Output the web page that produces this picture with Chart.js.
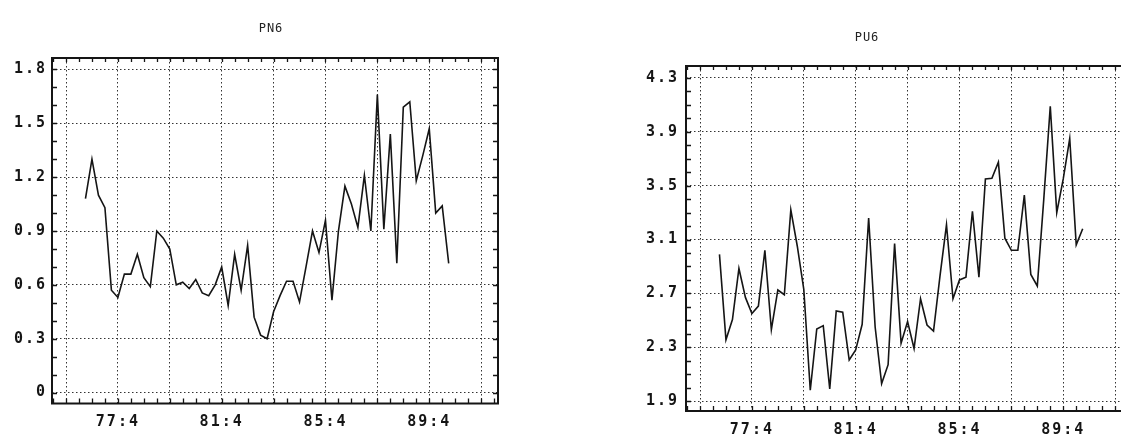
<!DOCTYPE html>
<html>
<head>
<meta charset="utf-8">
<script src="https://cdn.jsdelivr.net/npm/chart.js@4.4.0/dist/chart.umd.min.js"></script>
<style>
  html, body { margin: 0; padding: 0; background: #fff; overflow: hidden; width: 1121px; height: 438px; }
  .panel { position: absolute; top: 0; width: 540px; height: 438px; }
  .title { position: absolute; font: 12px 'DejaVu Sans Mono', monospace; letter-spacing: 1px; color: #222; transform: translateX(-50%); }
</style>
</head>
<body>
<div class="panel" style="left:0"><canvas id="pn6" width="540" height="438"></canvas></div>
<div class="panel" style="left:634px"><canvas id="pu6" width="540" height="438"></canvas></div>
<div class="title" style="left:271px; top:21px">PN6</div>
<div class="title" style="left:867px; top:30px">PU6</div>
<script>
/* global Chart */

// Quarters (yy:q), 76:3 .. 90:3
var quarters = [
    '76:3', '76:4',
    '77:1', '77:2', '77:3', '77:4', '78:1', '78:2', '78:3', '78:4',
    '79:1', '79:2', '79:3', '79:4', '80:1', '80:2', '80:3', '80:4',
    '81:1', '81:2', '81:3', '81:4', '82:1', '82:2', '82:3', '82:4',
    '83:1', '83:2', '83:3', '83:4', '84:1', '84:2', '84:3', '84:4',
    '85:1', '85:2', '85:3', '85:4', '86:1', '86:2', '86:3', '86:4',
    '87:1', '87:2', '87:3', '87:4', '88:1', '88:2', '88:3', '88:4',
    '89:1', '89:2', '89:3', '89:4', '90:1', '90:2', '90:3'
];

var pn6 = [
    1.08, 1.30,
    1.10, 1.03, 0.57, 0.53, 0.66, 0.66, 0.77, 0.64,
    0.59, 0.90, 0.86, 0.80, 0.60, 0.615, 0.58, 0.63,
    0.555, 0.54, 0.60, 0.70, 0.485, 0.77, 0.57, 0.82,
    0.42, 0.32, 0.30, 0.45, 0.54, 0.62, 0.62, 0.505,
    0.70, 0.90, 0.78, 0.96, 0.515, 0.90, 1.15, 1.05,
    0.92, 1.21, 0.90, 1.66, 0.91, 1.44, 0.72, 1.59,
    1.62, 1.18, 1.32, 1.47, 1.00, 1.04, 0.72
];

var pu6 = [
    2.99, 2.355,
    2.505, 2.885, 2.67, 2.55, 2.605, 3.02, 2.43, 2.725,
    2.69, 3.32, 3.05, 2.73, 1.98, 2.435, 2.46, 1.99,
    2.57, 2.56, 2.205, 2.28, 2.47, 3.26, 2.45, 2.03,
    2.17, 3.07, 2.33, 2.49, 2.29, 2.66, 2.465, 2.42,
    2.83, 3.21, 2.66, 2.80, 2.82, 3.31, 2.82, 3.55,
    3.555, 3.675, 3.11, 3.02, 3.02, 3.43, 2.84, 2.755,
    3.40, 4.09, 3.30, 3.55, 3.85, 3.06, 3.18
];

var pnYLabels = ['0', '0.3', '0.6', '0.9', '1.2', '1.5', '1.8'];
var puYLabels = ['1.9', '2.3', '2.7', '3.1', '3.5', '3.9', '4.3'];
var xTickLabels = ['77:4', '81:4', '85:4', '89:4'];
var xGridQuarters = ['75:4', '77:4', '79:4', '81:4', '83:4', '85:4', '87:4', '89:4', '91:4'];

var FONT = "'DejaVu Sans Mono', monospace";
var INK = '#151515';
var GRID = '#333';

function qIndex(s) {
    var p = s.split(':');
    return (Number(p[0]) - 75) * 4 + (Number(p[1]) - 1);
}

function near(a, b) { return Math.abs(a - b) < 1e-6; }

// frame with inward ticks on all four sides
var framePlugin = {
    id: 'frame',
    beforeDraw: function (chart) {
        chart.ctx.letterSpacing = '2px';
    },
    afterDatasetsDraw: function (chart) {
        var ctx = chart.ctx, a = chart.chartArea;
        var xs = chart.scales.x, ys = chart.scales.y;
        ctx.save();
        ctx.strokeStyle = INK;
        ctx.lineWidth = 1.3;
        ctx.beginPath();
        xs.ticks.forEach(function (t) {
            var px = Math.round(xs.getPixelForValue(t.value)) + 0.5;
            ctx.moveTo(px, a.bottom); ctx.lineTo(px, a.bottom - 5);
            ctx.moveTo(px, a.top); ctx.lineTo(px, a.top + 4);
        });
        ys.ticks.forEach(function (t) {
            var py = Math.round(ys.getPixelForValue(t.value)) + 0.5;
            ctx.moveTo(a.left, py); ctx.lineTo(a.left + 5, py);
            ctx.moveTo(a.right, py); ctx.lineTo(a.right - 5, py);
        });
        ctx.stroke();
        ctx.lineWidth = 2;
        ctx.strokeRect(a.left, a.top, a.right - a.left, a.bottom - a.top);
        ctx.restore();
    }
};

function makeChart(id, values, yLabels, yMin, yMax, top, xHeight) {
    var yFirst = parseFloat(yLabels[0]);
    var yLast = parseFloat(yLabels[yLabels.length - 1]);
    var points = quarters.map(function (q, i) { return { x: qIndex(q), y: values[i] }; });

    return new Chart(document.getElementById(id), {
        type: 'line',
        data: {
            datasets: [{
                data: points,
                borderColor: INK,
                borderWidth: 1.6,
                pointRadius: 0,
                tension: 0,
                fill: false
            }]
        },
        options: {
            responsive: false,
            animation: false,
            layout: { padding: { top: top, right: 42, left: 0, bottom: 0 } },
            plugins: { legend: { display: false }, tooltip: { enabled: false } },
            scales: {
                x: {
                    type: 'linear',
                    min: qIndex('75:4') - 2.16,
                    max: qIndex('91:4') + 2.6,
                    afterBuildTicks: function (s) {
                        var t = [];
                        for (var v = qIndex('75:2'); v <= s.max; v += 2) t.push({ value: v });
                        s.ticks = t;
                    },
                    afterFit: function (s) { s.height = xHeight; },
                    grid: {
                        drawTicks: false,
                        lineWidth: 1,
                        color: function (c) {
                            var v = c.tick ? c.tick.value : NaN;
                            return xGridQuarters.some(function (q) { return qIndex(q) === v; }) ? GRID : 'rgba(0,0,0,0)';
                        }
                    },
                    border: { display: false, dash: [1.5, 2.5] },
                    ticks: {
                        autoSkip: false,
                        maxRotation: 0,
                        padding: 10,
                        color: INK,
                        font: { family: FONT, size: 15, weight: 'bold' },
                        callback: function (v) {
                            var l = xTickLabels.filter(function (q) { return qIndex(q) === v; });
                            return l.length ? l[0] : '';
                        }
                    }
                },
                y: {
                    min: yMin,
                    max: yMax,
                    afterBuildTicks: function (s) {
                        var t = [];
                        for (var k = 0; yFirst + k * 0.1 <= yLast + 1e-6; k++) {
                            t.push({ value: Math.round((yFirst + k * 0.1) * 10) / 10 });
                        }
                        s.ticks = t;
                    },
                    afterFit: function (s) { s.width = 52; },
                    grid: {
                        drawTicks: false,
                        lineWidth: 1,
                        color: function (c) {
                            var v = c.tick ? c.tick.value : NaN;
                            return yLabels.some(function (l) { return near(parseFloat(l), v); }) ? GRID : 'rgba(0,0,0,0)';
                        }
                    },
                    border: { display: false, dash: [1.5, 2.5] },
                    ticks: {
                        autoSkip: false,
                        padding: id === 'pn6' ? 5 : 7,
                        color: INK,
                        font: { family: FONT, size: 15, weight: 'bold' },
                        callback: function (v) {
                            var l = yLabels.filter(function (s) { return near(parseFloat(s), v); });
                            return l.length ? l[0] : '';
                        }
                    }
                }
            }
        },
        plugins: [framePlugin]
    });
}

makeChart('pn6', pn6, pnYLabels, -0.061, 1.864, 58, 34.5);
makeChart('pu6', pu6, puYLabels, 1.826, 4.389, 66, 27);
</script>
</body>
</html>
